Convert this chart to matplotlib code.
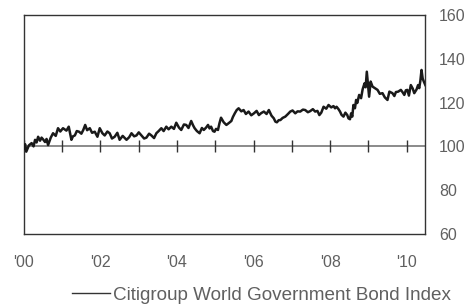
import numpy as np
import matplotlib
matplotlib.use('Agg')
import matplotlib.pyplot as plt

# pixel readings converted to (year, index level)
years = [2000.00, 2000.03, 2000.06, 2000.13, 2000.20, 2000.25, 2000.29, 2000.33, 2000.37,
         2000.42, 2000.46, 2000.50, 2000.55, 2000.59, 2000.63, 2000.70,
         2000.76, 2000.83, 2000.89, 2000.95, 2001.02, 2001.11, 2001.17, 2001.24,
         2001.28, 2001.33, 2001.38, 2001.44, 2001.50, 2001.55,
         2001.60, 2001.65, 2001.72, 2001.78, 2001.85, 2001.92, 2001.98, 2002.05,
         2002.11, 2002.18, 2002.24, 2002.30, 2002.37, 2002.44, 2002.50, 2002.58,
         2002.68, 2002.75, 2002.81, 2002.88, 2002.94, 2003.00, 2003.07, 2003.14,
         2003.20, 2003.27, 2003.33, 2003.40, 2003.46, 2003.52, 2003.59, 2003.65,
         2003.72, 2003.78, 2003.85, 2003.92, 2003.98, 2004.05, 2004.11, 2004.18,
         2004.24, 2004.30, 2004.37, 2004.42, 2004.46, 2004.52, 2004.59, 2004.65,
         2004.70, 2004.76, 2004.81, 2004.85, 2004.89, 2004.94, 2004.98, 2005.02,
         2005.07, 2005.11, 2005.15, 2005.22, 2005.29, 2005.35, 2005.42, 2005.46,
         2005.51, 2005.56, 2005.61, 2005.68, 2005.74, 2005.80, 2005.87, 2005.94,
         2006.01, 2006.08, 2006.14, 2006.20, 2006.27, 2006.34, 2006.40, 2006.47,
         2006.53, 2006.57, 2006.61, 2006.66, 2006.70, 2006.76, 2006.83, 2006.90,
         2006.96, 2007.02, 2007.09, 2007.15, 2007.22, 2007.29, 2007.35, 2007.42,
         2007.48, 2007.55, 2007.61, 2007.67, 2007.72, 2007.77, 2007.83, 2007.90,
         2007.96, 2008.03, 2008.09, 2008.13, 2008.17, 2008.22, 2008.26, 2008.30,
         2008.35, 2008.40, 2008.45, 2008.48, 2008.52, 2008.55, 2008.58, 2008.61,
         2008.65, 2008.68, 2008.71, 2008.76, 2008.81, 2008.85, 2008.90, 2008.93,
         2008.96, 2009.02, 2009.06, 2009.11, 2009.17, 2009.24, 2009.30, 2009.37,
         2009.43, 2009.50, 2009.55, 2009.63, 2009.68, 2009.72, 2009.78, 2009.85,
         2009.90, 2009.94, 2009.98, 2010.02, 2010.06, 2010.11, 2010.16, 2010.20,
         2010.26, 2010.30, 2010.33, 2010.36, 2010.39, 2010.42, 2010.45, 2010.49]
index = [99.0, 101.0, 97.6, 100.5, 101.5, 100.0, 103.0, 101.8, 104.4,
         102.6, 104.0, 103.2, 102.0, 103.4, 100.6, 104.0,
         106.0, 104.8, 108.3, 106.8, 108.3, 107.2, 109.0, 103.0,
         104.6, 105.0, 107.0, 106.7, 105.8, 107.5,
         109.8, 107.4, 108.3, 106.2, 106.7, 104.4, 108.3, 106.0,
         105.0, 106.8, 106.0, 103.6, 104.4, 106.2, 103.0, 104.8,
         103.0, 104.2, 106.0, 104.6, 105.0, 106.4, 105.0, 103.6,
         104.0, 105.8, 105.0, 103.8, 106.0, 107.0, 108.3, 107.0,
         109.0, 107.8, 109.0, 108.0, 110.8, 108.6, 107.5, 110.0,
         109.8, 108.4, 111.6, 109.6, 108.3, 107.0, 106.0, 108.4,
         107.5, 108.6, 109.8, 108.2, 109.0, 107.0, 106.7, 108.0,
         107.5, 110.6, 113.1, 111.0, 109.8, 110.6, 111.6, 113.4,
         115.1, 116.6, 117.4, 116.0, 116.6, 114.8, 115.9, 114.2,
         115.1, 116.2, 114.3, 115.2, 115.9, 114.8, 116.6, 114.0,
         112.8, 111.3, 111.0, 112.0, 112.0, 113.0, 113.6, 114.8,
         115.9, 116.4, 115.1, 116.0, 115.9, 116.8, 116.6, 115.6,
         116.1, 117.0, 115.9, 116.2, 114.3, 115.4, 118.1, 117.2,
         118.9, 117.8, 118.4, 117.4, 118.1, 117.0, 115.9, 114.4,
         113.6, 115.4, 114.3, 112.8, 112.4, 115.1, 113.6, 118.9,
         117.4, 121.2, 119.8, 123.5, 122.0, 126.0, 128.8, 127.0,
         134.1, 122.7, 129.6, 127.3, 126.6, 125.8, 124.0, 124.3,
         122.4, 121.2, 125.0, 124.3, 123.0, 124.8, 125.0, 125.8,
         124.6, 123.5, 125.6, 125.8, 123.2, 128.0, 126.4, 124.3,
         126.0, 128.0, 126.6, 130.0, 134.9, 131.0, 129.6, 128.0]

tick_years = list(range(2000, 2011))
label_years = [2000, 2002, 2004, 2006, 2008, 2010]
y_ticks = [60, 80, 100, 120, 140, 160]

plt.rcParams['font.family'] = ['Liberation Sans', 'DejaVu Sans']
txt = '#606060'

fig = plt.figure(figsize=(4.7, 3.07), dpi=100)
ax = fig.add_axes([0.051, 0.2378, 0.854, 0.7134])

ax.axhline(100, color='#8a8a8a', lw=1.4, zorder=1)
ax.vlines(tick_years, 97.4, 103, color='#333333', lw=1.0, zorder=1)

ax.plot(years, index, color='#1a1a1a', lw=1.8, zorder=3)

ax.set_xlim(2000, 2010.49)
ax.set_ylim(60, 160)

ax.set_xticks(label_years)
ax.set_xticklabels(["'%02d" % (y % 100) for y in label_years])
ax.set_yticks(y_ticks)
ax.yaxis.tick_right()
ax.tick_params(axis='x', length=0, pad=15, labelsize=11.5, colors=txt)
ax.tick_params(axis='y', length=0, pad=10, labelsize=11.5, colors=txt)
for lab in ax.get_yticklabels():
    lab.set_horizontalalignment('left')

for s in ax.spines.values():
    s.set_color('#333333')
    s.set_linewidth(1.0)

fig.legend(['Citigroup World Government Bond Index'], loc='center',
           bbox_to_anchor=(0.556, 0.039), frameon=False, fontsize=13.6,
           handlelength=2.0, handletextpad=0.15, labelcolor=txt)
leg = fig.legends[0]
leg.get_lines()[0].set_color('#333333')
leg.get_lines()[0].set_linewidth(1.0)

fig.savefig('out.png', dpi=100)
